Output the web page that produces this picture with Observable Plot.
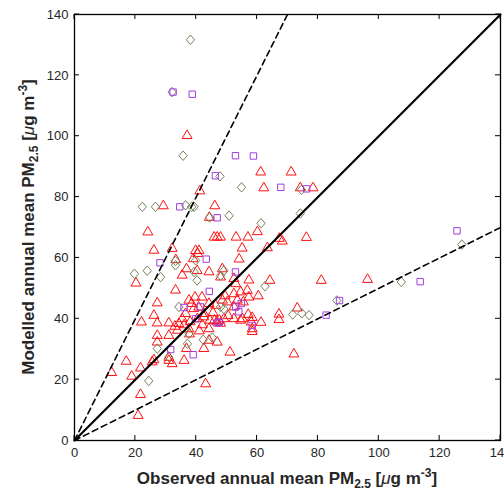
<!DOCTYPE html>
<html>
<head>
<meta charset="utf-8">
<script src="https://cdn.jsdelivr.net/npm/d3@7"></script>
<script src="https://cdn.jsdelivr.net/npm/@observablehq/plot@0.6"></script>
<style>
  html, body { margin: 0; padding: 0; background: #fff; }
  #chart svg { display: block; }
</style>
</head>
<body>
<div id="chart"></div>
<script>
// ---- data (observed, modelled) ----
const triangles = [
  [37.0,100.2],
  [61.2,88.2],[71.2,88.2],
  [41.2,82.0],[62.2,83.0],[74.2,83.0],[78.4,83.0],
  [29.2,77.1],[46.1,77.1],
  [44.3,73.3],
  [24.1,68.5],[60.1,68.6],
  [45.9,66.8],[46.9,66.8],[48.0,66.8],[53.1,66.8],[57.0,66.8],[67.3,66.4],[68.3,65.5],[76.2,66.7],
  [55.1,63.2],[63.4,63.3],[26.1,62.5],[32.1,63.1],[39.8,62.4],[40.9,62.4],[40.5,61.4],
  [39.0,59.7],[33.3,59.4],[54.1,59.6],
  [36.8,56.4],[35.4,54.3],[40.3,55.8],[44.2,55.4],[48.6,56.4],[48.0,53.7],[52.4,53.2],[57.3,52.7],[64.2,52.6],[81.1,52.6],[96.3,52.9],
  [20.2,51.7],[33.2,49.4],[60.4,47.5],
  [27.2,45.2],[39.6,47.1],[37.6,46.1],[44.2,45.0],[46.4,44.4],[48.6,46.1],[52.4,48.2],[54.6,48.8],[56.8,49.3],[57.3,47.1],[53.5,46.1],[50.2,45.5],[52.4,43.9],[41.9,47.1],[40.8,43.8],
  [73.2,43.5],[67.2,41.5],[67.2,39.7],[57.1,41.4],[58.4,40.4],[61.3,38.8],[58.1,38.9],
  [26.1,41.1],[22.0,38.9],[27.2,38.6],[31.0,38.6],[34.3,38.4],[35.4,40.0],[36.5,41.7],[39.2,43.3],[40.4,40.0],[42.5,40.6],[42.5,41.7],[44.5,39.5],[46.0,39.5],[46.8,39.0],[47.6,39.5],[49.1,40.0],[52.4,40.0],[54.6,39.5],[55.2,40.0],
  [38.5,45.0],[42.0,38.0],[45.5,42.0],[50.5,41.0],[48.0,38.5],[36.0,38.0],[38.0,39.0],[33.0,37.5],[41.0,36.0],[53.0,51.5],[55.5,45.5],[49.5,47.5],
  [27.2,34.5],[27.2,32.3],[31.0,34.5],[33.8,36.2],[37.6,36.7],[37.8,35.0],[44.2,36.7],[44.2,32.9],[46.9,32.3],[58.4,36.7],[58.4,35.8],
  [36.8,30.2],[42.5,30.2],[51.1,29.0],[72.1,28.4],
  [31.0,26.3],[32.1,25.2],[36.0,26.3],[31.0,27.3],[26.1,26.5],[25.5,25.8],[17.0,26.0],
  [21.7,23.8],[18.8,21.1],[12.2,22.3],[21.7,15.1],[20.9,8.2],[43.1,18.6]
];
const diamonds = [
  [38.1,131.7],[32.1,114.5],[35.7,93.6],[47.8,86.8],[54.9,83.2],
  [22.3,76.8],[26.6,76.8],[36.5,77.3],[38.5,76.8],[39.3,76.8],
  [44.4,73.3],[50.8,73.9],[61.3,71.4],[74.2,74.6],[74.6,82.4],
  [19.7,54.8],[23.9,55.8],[28.3,53.7],[33.2,59.0],[33.2,57.6],[39.8,59.2],[39.3,55.4],[40.3,52.6],[49.1,55.8],[48.0,54.2],[62.6,50.7],
  [34.3,43.9],[49.1,43.2],[48.0,43.9],
  [37.6,35.1],[37.1,31.8],[42.3,33.1],[45.3,33.8],[27.2,30.2],[31.0,27.4],[24.4,19.6],
  [71.7,41.4],[74.7,41.8],[77.1,41.2],[86.2,46.0],[107.4,52.1],[127.3,64.4]
];
const squares = [
  [32.4,114.5],[38.7,113.8],[52.9,93.6],[58.8,93.5],[46.3,87.0],[67.8,83.2],[76.3,82.7],[34.6,76.8],[46.9,73.2],
  [28.1,58.4],[43.3,59.6],[52.9,55.4],[44.3,49.0],
  [125.7,68.9],[113.6,52.2],[87.1,46.0],[82.7,41.2],
  [36.0,43.7],[41.4,43.9],[53.0,43.9],[54.8,45.0],[54.0,42.3],[39.8,40.0],[47.6,38.9],[46.8,38.6],[58.4,37.8],[31.6,29.9],[39.0,28.2]
];
const axisMin = 0;
const axisMax = 140;
const xTicks = [0, 20, 40, 60, 80, 100, 120, 140];
const yTicks = [0, 20, 40, 60, 80, 100, 120, 140];
const refSlopes = [1, 2, 0.5];

// ---- reference line endpoints (y = k x, clipped to the axis range) ----
const refLine = k => [[0, 0], [Math.min(axisMax, axisMax / k), Math.min(axisMax, axisMax * k)]];

// MATLAB-like diamond symbol
const diamondSym = {
  draw(ctx, size) {
    const r = Math.sqrt(size / Math.PI);
    const hw = 1.1 * r, hh = 1.25 * r;
    ctx.moveTo(0, -hh); ctx.lineTo(hw, 0); ctx.lineTo(0, hh); ctx.lineTo(-hw, 0); ctx.closePath();
  }
};

const chart = Plot.plot({
  width: 504,
  height: 491,
  marginLeft: 74,
  marginRight: 4,
  marginTop: 14,
  marginBottom: 51,
  x: {domain: [axisMin, axisMax]},
  y: {domain: [axisMin, axisMax]},
  style: {fontFamily: "'Liberation Sans', Arial, sans-serif", fontSize: "13px", color: "#262626", background: "#fff"},
  marks: [
    Plot.axisX(xTicks, {anchor: "bottom", tickSize: 0, tickPadding: 7, label: null, fill: "#262626"}),
    Plot.axisY(yTicks, {anchor: "left", tickSize: 0, tickPadding: 6, label: null, fill: "#262626"}),
    Plot.dot(triangles, {x: d => d[0], y: d => d[1], symbol: "triangle", r: 3.7, stroke: "#ff1010", strokeWidth: 1, fill: "none"}),
    Plot.dot(diamonds, {x: d => d[0], y: d => d[1], symbol: diamondSym, r: 3.8, stroke: "#74835a", strokeWidth: 1, fill: "none"}),
    Plot.dot(squares, {x: d => d[0], y: d => d[1], symbol: "square", r: 3.6, stroke: "#a03ee0", strokeWidth: 1, fill: "none"}),
    Plot.line(refLine(refSlopes[0]), {x: d => d[0], y: d => d[1], stroke: "black", strokeWidth: 2.2}),
    Plot.line(refLine(refSlopes[1]), {x: d => d[0], y: d => d[1], stroke: "black", strokeWidth: 1.6, strokeDasharray: "6,4"}),
    Plot.line(refLine(refSlopes[2]), {x: d => d[0], y: d => d[1], stroke: "black", strokeWidth: 1.6, strokeDasharray: "6,4"}),
    Plot.frame({stroke: "black", strokeWidth: 1.3})
  ]
});

const svg = d3.select(chart);

// ---- inward tick marks on all four sides (MATLAB box style), positioned by Plot's scales ----
const sx = chart.scale("x"), sy = chart.scale("y");
const tickLen = 5;
const tg = svg.append("g").attr("stroke", "black").attr("stroke-width", 1);
const x0 = sx.apply(axisMin), x1 = sx.apply(axisMax), y0 = sy.apply(axisMin), y1 = sy.apply(axisMax);
for (const t of xTicks) {
  const px = sx.apply(t);
  tg.append("line").attr("x1", px).attr("x2", px).attr("y1", y0).attr("y2", y0 - tickLen);
  tg.append("line").attr("x1", px).attr("x2", px).attr("y1", y1).attr("y2", y1 + tickLen);
}
for (const t of yTicks) {
  const py = sy.apply(t);
  tg.append("line").attr("y1", py).attr("y2", py).attr("x1", x0).attr("x2", x0 + tickLen);
  tg.append("line").attr("y1", py).attr("y2", py).attr("x1", x1).attr("x2", x1 - tickLen);
}

// ---- axis titles with sub/superscripts ----
function addLabel(sel, prefix) {
  const t = sel.append("text")
    .attr("text-anchor", "middle")
    .attr("font-family", "'Liberation Sans', Arial, sans-serif")
    .attr("font-weight", "bold")
    .attr("font-size", 17)
    .attr("fill", "#262626");
  t.append("tspan").text(prefix + " PM");
  t.append("tspan").attr("font-size", 12).attr("dy", 4).text("2.5");
  t.append("tspan").attr("dy", -4).text(" [");
  t.append("tspan").attr("font-style", "italic").attr("font-weight", "normal").text("μ");
  t.append("tspan").text("g m");
  t.append("tspan").attr("font-size", 12).attr("dy", -7).text("-3");
  t.append("tspan").attr("dy", 7).text("]");
  return t;
}
addLabel(svg, "Observed annual mean").attr("x", 287).attr("y", 484);
addLabel(svg, "Modelled annual mean").attr("transform", "translate(33.5,227) rotate(-90)");

document.getElementById("chart").appendChild(chart);
</script>
</body>
</html>
